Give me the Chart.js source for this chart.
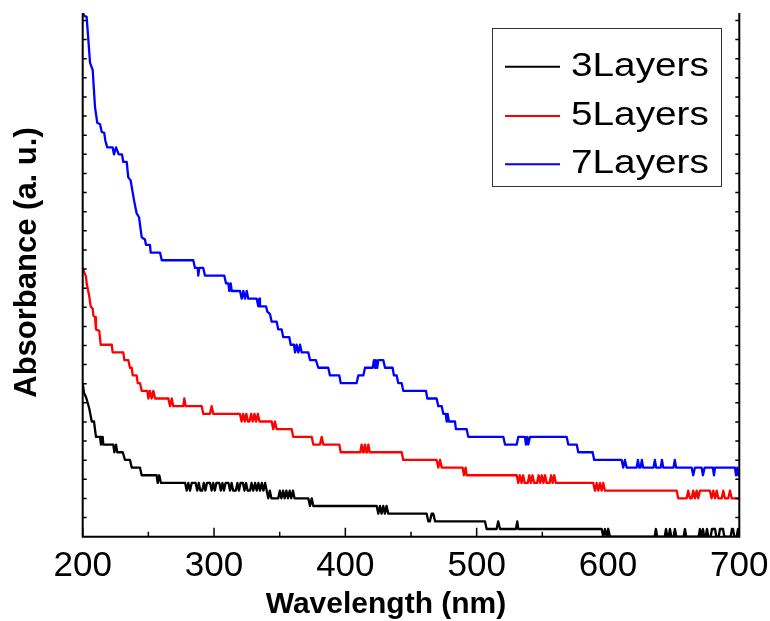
<!DOCTYPE html>
<html><head><meta charset="utf-8">
<script src="https://cdn.jsdelivr.net/npm/chart.js@4/dist/chart.umd.min.js"></script>
<style>html,body{margin:0;padding:0;background:#fff;}</style>
</head><body>
<canvas id="c" width="770" height="621"></canvas>
<script>
// ---- data (wavelength nm, absorbance a.u.) ----
const seriesNames = ['3Layers', '5Layers', '7Layers'];
const seriesColors = ['#000000', '#ff0000', '#0000ff'];
const xTickValues = [200, 300, 400, 500, 600, 700];
const xMin = 200, xMax = 700, yMin = 0, yMax = 68.2, yTickStep = 2.49;

const layers3 = [[200,20],[201,18.7],[202.5,18.2],[203.5,17.6],[205,16.7],[206.9,15],[208.6,15],[210.1,13],[213.2,13],[213.9,12],[215.2,13],[215.7,12],[223.3,12],[224.1,11],[225.4,12],[226.3,11],[230.5,11],[232.2,10],[236,10],[237.3,9],[243.6,9],[244.9,8],[256.3,8],[257.1,7],[258.3,8],[259.6,7],[278,7],
[279.2,6],[280.4,7],[281.7,6],[283,7],[286,7],[287.2,6],[288.4,7],[289.6,6],[291,6],[292.2,7],[293.4,6],[294.6,7],[297,7],[298.2,6],[299.4,7],[300.6,6],[301.8,7],[304,7],[305.2,6],[306.4,7],[307.6,6],[308.8,7],[311,7],[312.2,6],[313.4,7],[314.6,6],[316.6,6],[317.8,7],[319,6],[320.2,7],[322,7],[323.2,6],[324.4,7],[325.6,6],[327.4,6],[328.6,7],[329.8,6],[331.3,7],[332.5,6],[333.8,7],[335,6],[336.4,7],[337.6,6],[338.9,7],[340.1,6],
[341.3,5],[342.5,6],[343.7,5],[348.9,5],[350.1,6],[351.3,5],[352.6,6],[353.8,5],[355.1,6],[356.3,5],[357.6,6],[358.8,5],[360.1,6],[361.3,5],[371.8,5],[373.1,4],[374.4,5],[375.6,4],[423.9,4],[425.1,3],[426.4,4],[427.6,3],[428.9,4],[430.1,3],[431.4,4],[432.7,3],[461.9,3],[463.2,2],[464.4,2],[465.7,3],[467,3],[468.3,2],[506.3,2],[507.6,1],[515.2,1],[516.4,2],[517.8,1],[529.9,1],[530.9,2],[531.7,1],[595.2,1],[596.4,0],[597.7,1],[599,0],[600.2,1],[601.5,0],
[635.5,0],[636.5,1],[637.5,0],[643.2,0],[644.2,1],[645.2,0],[646.2,0],[647.2,1],[648.2,0],[650,0],[651,1],[652,0],[657.6,0],[658.6,1],[659.6,0],[669,0],[670,1],[671.1,0],[672.3,1],[673.3,0],[674.4,0],[675.4,1],[676.4,0],[678.2,0],[679.2,1],[681.5,1],[682.5,0],[684.3,0],[685.3,1],[687.6,1],[688.6,0],[693.4,0],[694.4,1],[695.2,1],[696.2,0],[698,0],[699,1],[700,0]];

const layers5 = [[200,35],[201,34.5],[202.5,33.9],[203,33],[205,31.3],[206.1,30],[207.6,29.7],[208.1,28.8],[209.4,28.6],[210.1,27],[212.6,26.8],[213.7,25],[222.1,25],[222.8,24],[230.9,24],[231.7,23],[234.7,23],[236,22],[237.3,22],[238.1,21],[241.1,21],[241.9,20],[243.6,20],[244.9,19],[249.2,19],[250,18],[251.2,19],[252.5,18],[253.8,19],[255.1,18],[265.2,18],[266.5,17],[267.8,18],[269,17],[276.6,17],[277.4,18],[278.4,17],[290.6,17],[291.8,16],[296.9,16],[298.2,17],[299.4,16],[319.7,16],[321,15],[322.2,16],[323.4,15],[324.6,16],[325.8,15],[327,15],[328.3,16],[329.5,15],[330.8,16],[332,15],[333.4,16],[334.6,15],[343.9,15],[345.1,14],[346.4,15],[347.7,14],[359.1,14],[360.3,13],[374.4,13],[375.6,12],[380.7,12],[382,13],[383.2,12],[395.4,12],[396.5,11],[411.4,11],[412.4,12],[413.4,11],[413.9,11],[414.9,12],[415.9,11],[416.5,11],[417.5,12],[418.5,11],[442.9,11],[444.1,10],[469.5,10],[470.8,9],[472.1,10],[473.4,9],[489.3,9],[490.3,8],[491.6,9],[492.4,8],[530.5,8],[531.7,7],[532.9,8],[534.2,7],[535.4,8],[536.6,7],[538.9,7],[540.1,8],[541.3,7],[542.5,8],[543.8,7],[546,7],[547.2,8],[548.4,7],[549.6,8],[550.9,7],[552.1,8],[553.3,7],[555.5,7],[556.7,8],[557.9,7],[559.1,8],[560.3,7],[588.8,7],[590.1,6],[591.4,7],[592.6,6],[593.9,7],[595.2,6],[596.4,7],[597.7,6],[652.3,6],[653.5,5],[659.9,5],[661.1,6],[662.4,5],[663.7,5],[664.9,6],[666.2,5],[667.5,6],[668.7,5],[670,6],[677.6,6],[678.9,5],[680.2,6],[681.5,5],[682.8,6],[684,5],[686.6,5],[687.8,6],[689.1,5],[691.6,5],[692.9,6],[694.2,5],[700,5]];

const layers7 = [[200,68.2],[201.5,67.8],[203,67.7],[205.6,61.7],[207.6,60.8],[209.4,55.9],[211.1,53.9],[213.2,53.7],[214.5,52.7],[216.4,52.6],[217.2,51.6],[218.7,50.7],[222.8,50.7],[223.8,49.8],[225.4,50.7],[227.4,49.8],[229.9,49.8],[230.9,48.8],[233.5,48.8],[234.7,46.8],[236.5,46.4],[239.1,43.8],[241.1,42.1],[242.9,41.6],[244.9,39],[247.4,38.7],[248.2,38],[251.2,38],[251.8,37],[258.9,37],[260.2,36],[284.2,36],[285.5,35],[287.6,35],[288,34],[288.8,35],[291.8,35],[293.1,34],[307.8,34],[309.1,33],[310.9,33],[311.6,32],[312.7,33],[313.5,32],[319.8,32],[321.1,31],[322.3,32],[323.6,31],[324.9,32],[326.1,31],[332.5,31],[333.7,30],[334.5,31],[335,30],[339.6,30],[340.6,29.3],[342.6,29],[343.9,28],[347.7,28],[348.9,27],[351.5,27],[352.7,26],[357.3,26],[358.4,25],[360.9,25],[361.7,24],[362.9,25],[364.2,24],[365.5,25],[366.8,24],[371.8,24],[373.1,23],[377.6,23],[379.4,22],[387,22],[388.3,21],[395.4,21],[396.5,20],[408.6,20],[409.9,21],[413.7,21],[415,22],[420.8,22],[421.8,23],[422.6,22],[423.3,23],[424.3,22],[425.1,23],[428.9,23],[430.2,22],[436,22],[437,21],[439.1,21],[440.3,20],[442.9,20],[444.1,19],[461.4,19],[462.4,18],[469.5,18],[470.8,17],[473.4,17],[474.6,16],[476.4,16],[477.2,15],[477.9,16],[478.9,15],[483.5,15],[484.2,14],[492.4,14],[493.6,13],[520.3,13],[521.6,12],[530.5,12],[531.7,13],[536.8,13],[537.5,12],[538.5,13],[539.3,12],[540.6,13],[568.5,13],[569.8,12],[576.2,12],[577.4,11],[588.3,11],[589.5,10],[610.4,10],[611.6,9],[612.9,10],[614.2,9],[621.8,9],[622.8,10],[623.8,9],[624.8,9],[625.8,10],[626.8,9],[634.7,9],[635.7,10],[636.7,9],[640.1,9],[641.1,10],[642.1,9],[649.9,9],[650.9,10],[651.9,9],[663.7,9],[664.9,8],[666.2,9],[671.3,9],[672.3,8],[673.6,9],[679.9,9],[680.7,8],[681.5,9],[696.7,9],[697.5,8],[698.5,9],[699.3,8],[700,8.5]];

const seriesData = [layers3, layers5, layers7];
const xTitle = 'Wavelength (nm)';
const yTitle = 'Absorbance (a. u.)';

// ---- plugins ----
const framePlugin = {
  id: 'frame',
  afterDatasetsDraw(chart) {
    const {ctx, chartArea: {left, right, top, bottom}, scales: {x, y}} = chart;
    ctx.save();
    ctx.strokeStyle = '#000';
    ctx.lineWidth = 2;
    ctx.beginPath();
    ctx.moveTo(left, top); ctx.lineTo(left, bottom); ctx.lineTo(right, bottom); ctx.lineTo(right, top);
    ctx.stroke();
    ctx.lineWidth = 1.5;
    ctx.beginPath();
    for (let v = xMin; v <= xMax; v += 50) {
      const px = x.getPixelForValue(v);
      const len = (v % 100 === 0) ? 9 : 5;
      ctx.moveTo(px, bottom); ctx.lineTo(px, bottom - len);
    }
    for (let k = 1; k * yTickStep <= yMax; k++) {
      const py = y.getPixelForValue(k * yTickStep);
      ctx.moveTo(left, py); ctx.lineTo(left + 4, py);
      ctx.moveTo(right, py); ctx.lineTo(right - 4, py);
    }
    ctx.stroke();
    ctx.restore();
  },
  afterDraw(chart) {
    const ctx = chart.ctx;
    ctx.save();
    // axis titles
    ctx.fillStyle = '#000';
    ctx.font = 'bold 30px "Liberation Sans", Arial, sans-serif';
    ctx.textAlign = 'center';
    ctx.textBaseline = 'alphabetic';
    ctx.fillText(xTitle, 386, 613);
    ctx.save();
    ctx.translate(36, 262.5);
    ctx.rotate(-Math.PI / 2);
    ctx.font = 'bold 31px "Liberation Sans", Arial, sans-serif';
    ctx.fillText(yTitle, 0, 0);
    ctx.restore();
    // legend
    ctx.strokeStyle = '#333';
    ctx.lineWidth = 1;
    ctx.strokeRect(492.5, 28.5, 229, 158);
    const rows = [66.7, 116, 164.3];
    seriesNames.forEach((name, i) => {
      ctx.strokeStyle = seriesColors[i];
      ctx.lineWidth = 2;
      ctx.beginPath(); ctx.moveTo(505, rows[i]); ctx.lineTo(560, rows[i]); ctx.stroke();
      ctx.save();
      ctx.translate(571, rows[i] + 9);
      ctx.scale(1.25, 1.05);
      ctx.fillStyle = '#000';
      ctx.textAlign = 'left';
      ctx.font = '31px "Liberation Sans", Arial, sans-serif';
      ctx.fillText(name, 0, 0);
      ctx.restore();
    });
    ctx.restore();
  }
};

new Chart(document.getElementById('c'), {
  type: 'line',
  data: {
    datasets: seriesData.map((pts, i) => ({
      label: seriesNames[i],
      data: pts.map(p => ({x: p[0], y: p[1]})),
      borderColor: seriesColors[i],
      backgroundColor: seriesColors[i],
      borderWidth: 2.3,
      pointRadius: 0,
      tension: 0,
      borderJoinStyle: 'round',
      fill: false
    }))
  },
  options: {
    responsive: false,
    animation: false,
    devicePixelRatio: 1,
    layout: {padding: {left: 0, right: 30.7, top: 13, bottom: 0}},
    plugins: {legend: {display: false}, tooltip: {enabled: false}},
    scales: {
      x: {
        type: 'linear', min: xMin, max: xMax,
        afterFit(s) { s.height = 84.3; s.paddingLeft = 0; s.paddingRight = 0; },
        afterBuildTicks(s) { s.ticks = xTickValues.map(v => ({value: v})); },
        grid: {display: false, drawTicks: false},
        border: {display: false},
        ticks: {color: '#000', padding: 9, maxRotation: 0, autoSkip: false,
          font: {family: '"Liberation Sans", Arial, sans-serif', size: 35}}
      },
      y: {
        type: 'linear', min: yMin, max: yMax,
        afterFit(s) { s.width = 82.7; s.paddingTop = 0; s.paddingBottom = 0; },
        ticks: {display: false},
        grid: {display: false, drawTicks: false},
        border: {display: false}
      }
    }
  },
  plugins: [framePlugin]
});
</script>
</body></html>
